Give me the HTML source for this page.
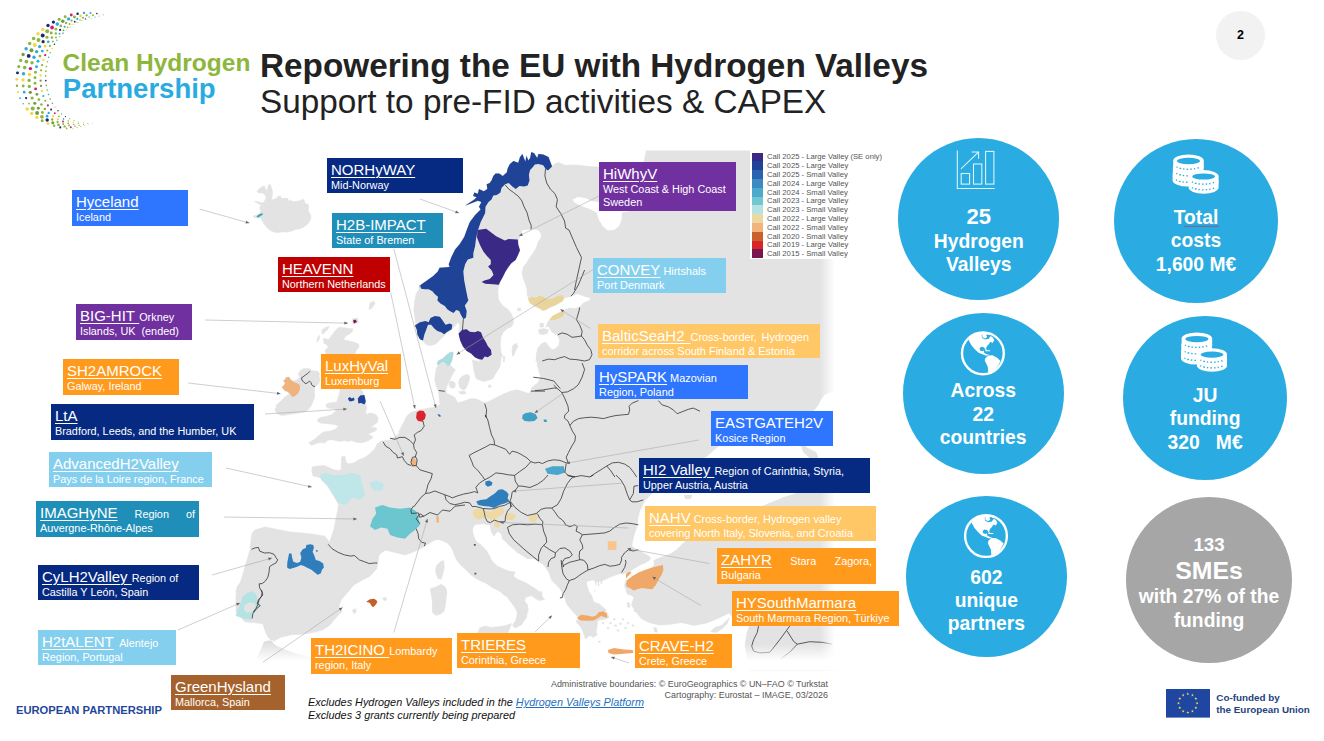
<!DOCTYPE html><html lang="en"><head><meta charset="utf-8"><title>Repowering the EU with Hydrogen Valleys</title><style>
*{box-sizing:border-box;margin:0;padding:0}
html,body{width:1324px;height:741px;overflow:hidden;background:#fff}
body{position:relative;font-family:"Liberation Sans",sans-serif;color:#fff}
.abs{position:absolute}
.lb{position:absolute;color:#fff;font-size:10.85px;line-height:13.2px;padding:3px 0 0 4px;white-space:nowrap;overflow:hidden}
.lb .t{font-size:15px;line-height:18px;text-decoration:underline;text-decoration-thickness:1px;text-underline-offset:2px}
.lb .t.nu{text-decoration:none}
.lb .m{font-size:10.95px}
.lb.big{font-size:10.85px;line-height:13.3px}
.lb.j{padding-right:4px}
.lb .jl{white-space:normal;text-align:justify;text-align-last:justify;height:18px}
.circ{position:absolute;border-radius:50%;background:#2aace2;color:#fff;font-weight:bold;text-align:center;font-size:19.3px;line-height:23.6px}
.circ div{position:absolute;left:0;right:0}
#title{position:absolute;left:260px;top:47.9px;color:#222;font-size:33.3px;line-height:36px;white-space:nowrap}
#title b{font-weight:bold}
.lg{position:absolute;left:767px;font-size:7.68px;line-height:8.8px;color:#555;white-space:nowrap}
.sw{position:absolute;left:752px;width:11.1px;height:8.9px}
</style></head><body>
<svg class="abs" style="left:0;top:0" width="1324" height="741" viewBox="0 0 1324 741"><defs><linearGradient id="fr" x1="0" x2="1" y1="0" y2="0"><stop offset="0" stop-color="#fff" stop-opacity="0"/><stop offset="1" stop-color="#fff"/></linearGradient><linearGradient id="fb" x1="0" x2="0" y1="0" y2="1"><stop offset="0" stop-color="#fff" stop-opacity="0"/><stop offset="1" stop-color="#fff"/></linearGradient><linearGradient id="af" gradientUnits="userSpaceOnUse" x1="0" x2="0" y1="641" y2="661"><stop offset="0" stop-color="#dcdcdc"/><stop offset="1" stop-color="#fff"/></linearGradient><clipPath id="mc"><rect x="228" y="150.5" width="610" height="520"/></clipPath></defs><g clip-path="url(#mc)"><path fill="url(#af)" d="M264.0 641.7L268.4 640.5L272.1 641.1L273.4 643.6L277.1 646.1L285.8 649.8L295.8 653.6L305.8 656.0L315.8 657.9L315.8 664.8L254.7 664.8L257.2 657.3Z"/><path fill="#e3e3e3" stroke="#e3e3e3" stroke-width="0.6" stroke-linejoin="round" d="M256.9 191.6L259.1 188.9L261.8 186.7L264.5 186.2L265.6 188.9L267.2 191.0L268.3 185.1L270.4 184.6L271.5 187.8L272.6 192.7L272.0 197.0L271.0 199.7L275.3 199.1L278.0 196.4L280.1 195.9L281.8 198.6L285.0 198.3L287.7 198.6L288.8 201.3L290.9 200.2L293.1 201.8L296.9 201.3L300.1 200.8L302.8 199.1L304.4 200.8L305.0 203.5L308.2 204.5L308.7 207.8L308.2 211.0L310.4 214.3L310.9 217.5L309.8 220.7L307.7 224.0L304.4 226.7L300.1 228.8L295.8 229.4L291.5 231.0L287.2 232.1L282.8 231.7L278.5 232.6L274.2 232.1L270.4 230.4L267.2 227.8L264.5 224.5L262.3 221.3L260.7 218.0L256.4 218.0L253.7 217.0L253.1 215.9L256.9 215.3L260.2 213.2L260.7 210.5L259.6 207.8L261.2 205.6L259.1 204.0L254.8 201.8L255.3 201.1L260.2 202.4L263.9 202.4L265.0 200.2L266.1 197.5L264.5 194.3L261.8 192.7L259.1 193.2ZM298.2 373.5L300.4 370.6L303.3 368.7L307.0 368.4L310.6 369.1L311.3 370.6L314.3 370.9L317.9 371.3L319.4 373.5L319.0 376.4L320.1 380.0L318.6 383.7L316.4 385.9L314.6 387.3L314.3 390.2L314.6 394.6L314.3 398.2L312.8 401.9L311.3 405.5L309.2 408.4L307.0 410.6L303.3 412.1L299.0 412.8L294.6 413.5L290.2 414.3L285.9 415.0L281.5 415.4L278.6 414.3L275.7 412.1L274.9 409.2L276.7 407.0L275.7 405.5L278.6 403.3L281.5 400.4L283.7 398.2L285.9 396.0L289.1 394.6L288.0 391.7L285.1 391.0L283.3 388.8L281.8 386.9L284.0 385.5L285.1 382.9L283.3 380.4L285.1 379.7L285.9 377.5L289.1 377.1L290.6 379.7L293.1 381.1L296.0 380.4L298.2 378.9L300.4 377.5L299.0 375.7ZM326.1 353.6L325.0 350.4L328.3 347.1L326.1 343.9L324.0 340.7L325.0 338.5L328.3 339.6L330.4 337.4L332.6 334.2L335.8 329.9L339.1 327.2L343.4 327.7L347.7 328.3L353.1 328.8L352.0 332.0L348.8 334.2L345.5 336.3L343.4 339.6L347.7 340.7L354.2 342.3L358.5 343.9L359.0 347.1L356.3 350.4L355.2 353.6L361.1 389.0L362.5 391.3L363.9 395.1L364.9 398.9L365.3 402.7L365.8 405.5L366.8 408.3L365.3 412.1L366.8 414.5L369.6 413.1L373.4 413.5L376.7 415.4L378.1 418.7L377.2 422.5L373.4 425.3L370.5 427.7L374.3 427.2L377.2 429.1L375.3 431.0L370.5 432.9L367.7 434.3L371.5 435.7L372.9 437.6L368.7 440.4L364.9 441.9L361.1 442.8L356.4 442.3L351.7 440.4L347.9 441.4L345.0 440.4L340.3 441.4L335.6 440.4L330.9 439.5L327.1 440.4L324.3 443.3L321.4 442.3L316.7 443.3L311.5 445.2L308.7 442.8L311.1 441.4L314.8 439.0L318.6 435.7L322.4 432.4L326.2 431.5L330.9 431.0L335.6 429.1L338.4 426.3L334.7 424.4L329.9 423.9L325.2 423.4L320.5 423.0L317.7 421.5L318.1 418.7L321.4 417.3L326.2 416.4L331.8 414.5L334.7 412.1L336.5 411.2L334.7 408.8L330.9 408.3L327.6 407.9L325.7 406.0L327.1 403.6L330.9 402.7L336.5 402.2L338.0 397.9L339.4 393.2L340.3 389.0ZM321.8 329.9L326.1 327.2L329.4 326.6L327.2 329.9L324.0 333.1L322.3 334.2ZM317.5 337.4L319.6 335.3L319.1 339.6L316.9 342.3ZM323.4 338.5L325.6 339.0L326.1 343.9L324.0 343.4ZM370.0 303.0L373.5 301.0L375.0 303.5L372.0 308.0L369.0 309.5ZM352.0 319.0L357.5 318.0L358.5 322.5L353.0 324.0ZM555.0 164.0L558.6 162.8L564.5 165.2L565.0 190.0L555.0 215.0L540.0 225.0L523.2 229.7L521.6 230.8L520.0 236.2L518.3 240.5L518.3 244.8L520.0 250.2L517.8 255.6L515.6 260.0L511.3 263.2L508.1 267.5L505.4 271.8L502.7 277.2L500.0 282.1L498.9 284.8L497.8 291.3L498.4 300.0L498.7 299.9L500.3 302.7L504.0 306.8L507.8 309.3L510.9 313.0L513.1 318.0L513.4 323.0L511.5 326.7L507.2 328.6L503.4 331.7L500.9 337.3L500.3 344.8L500.9 352.3L503.4 357.2L501.5 355.0L500.0 366.5L492.5 379.0L483.8 381.5L476.2 378.8L473.8 370.0L472.5 360.0L481.0 362.0L478.5 359.2L474.8 357.2L471.0 353.5L466.7 351.0L462.9 346.6L460.4 341.0L459.2 336.7L458.6 333.6L459.2 329.8L459.8 324.8L457.9 322.3L455.4 325.5L451.7 329.6L447.3 332.6L443.6 336.3L439.9 340.0L436.1 343.8L431.1 345.5L426.2 344.8L423.0 341.0L419.9 339.2L417.4 334.8L416.8 329.8L415.6 324.8L414.9 317.4L413.9 309.9L414.7 301.2L416.2 293.7L419.3 288.7L419.9 285.0L418.7 288.2L419.6 287.9L420.5 285.1L426.9 280.6L433.2 276.0L437.8 271.5L439.6 267.8L449.6 266.9L448.7 264.2L451.4 256.9L455.1 249.6L459.6 244.2L464.2 236.9L466.9 229.6L469.7 222.3L475.1 215.0L480.6 209.6L479.0 206.8L481.4 202.0L477.8 200.8L468.3 204.4L465.3 205.6L474.3 199.6L476.6 197.3L473.1 196.1L474.3 192.5L477.8 193.7L479.0 189.0L483.8 191.3L487.3 189.0L486.7 184.2L489.7 183.0L491.5 180.6L493.3 175.9L495.6 173.5L499.2 173.5L502.8 175.9L506.9 172.3L507.5 168.8L509.9 164.0L513.5 161.0L518.2 162.8L520.0 156.9L522.4 153.9L525.3 161.6L526.5 155.7L528.3 160.4L530.1 158.1L531.3 152.1L534.2 153.3L537.2 158.1L538.4 153.9L543.2 154.5L548.5 156.9L552.1 166.4ZM516.5 344.2L517.9 346.0L515.4 351.0L513.4 356.0L512.4 353.5L514.0 348.5ZM503.7 356.0L504.7 357.2L504.2 362.0L503.2 362.0ZM523.2 229.7L524.0 215.0L524.0 177.5L545.5 168.8L552.1 166.4L555.0 164.0L558.6 162.8L564.5 165.2L576.5 165.0L589.0 166.5L599.5 167.0L621.5 165.0L644.0 162.0L647.0 147.5L845.0 140.0L845.0 675.0L749.5 680.0L747.8 660.0L746.5 655.0L745.2 645.0L746.5 635.0L749.5 625.5L744.0 622.5L734.0 618.8L729.0 613.0L719.0 618.0L706.5 623.0L694.0 625.5L681.5 622.5L669.0 624.5L659.0 625.0L649.0 622.5L641.5 618.8L636.5 612.5L631.5 605.0L634.0 597.5L626.5 591.2L624.5 585.5L626.5 578.0L622.8 574.0L619.0 573.8L609.0 577.5L601.5 581.2L594.0 580.0L587.0 582.5L591.5 587.5L595.5 591.5L589.5 590.0L586.5 593.0L584.0 590.0L581.5 596.2L584.0 602.5L589.0 607.5L595.2 611.2L601.0 611.0L607.0 612.5L609.0 617.5L605.2 619.0L597.8 620.5L596.5 630.0L594.0 637.5L589.5 635.5L585.5 639.0L582.8 630.5L580.2 622.5L577.8 617.0L571.5 610.0L566.5 603.8L564.0 595.0L559.0 587.5L551.5 580.0L549.0 572.5L544.0 565.0L534.0 558.8L527.5 558.8L517.5 552.5L508.8 545.0L502.5 538.8L501.2 533.8L497.5 531.2L493.8 536.2L491.2 531.2L490.0 525.0L482.5 523.8L475.0 524.5L472.5 528.8L472.5 533.8L476.2 542.5L483.8 551.2L490.0 558.8L497.5 566.2L507.5 570.8L515.0 572.0L513.0 577.0L522.5 582.5L532.5 588.8L540.0 593.8L544.5 599.5L538.8 600.5L531.2 595.5L525.5 597.5L523.8 603.8L527.5 610.0L526.5 617.5L521.2 625.0L515.0 628.0L512.5 625.0L516.2 620.0L517.5 612.5L513.8 605.0L510.0 598.8L506.2 593.0L500.0 591.2L492.5 587.5L485.0 582.5L477.5 576.2L470.0 571.2L462.5 565.0L456.2 557.5L452.5 548.8L447.5 542.5L440.0 538.8L432.5 540.0L426.2 542.5L422.5 547.5L415.0 551.2L405.0 555.0L395.0 552.5L385.0 550.0L378.8 555.0L377.5 563.8L376.2 568.8L370.0 576.2L362.5 580.0L353.8 585.0L347.5 592.5L341.2 600.0L338.8 606.2L342.0 611.2L336.2 617.5L330.0 625.0L322.5 630.0L312.5 632.5L302.5 633.8L290.0 635.0L280.0 637.5L273.8 641.2L270.0 637.5L265.0 630.0L263.0 623.8L253.8 622.5L245.0 622.0L240.0 616.2L237.5 615.0L237.0 600.0L238.8 587.5L242.0 577.5L246.2 562.5L250.0 550.0L251.2 537.5L252.5 532.5L255.0 530.0L265.0 527.0L277.5 529.5L290.0 532.0L302.5 533.0L315.0 534.5L325.0 536.2L329.5 542.5L333.8 530.0L336.2 517.5L338.8 505.0L339.5 510.0L338.0 503.0L333.0 495.0L327.5 486.2L321.2 478.8L319.9 477.4L313.1 476.1L311.8 471.2L312.4 466.8L315.6 466.2L324.9 465.5L332.4 469.3L337.4 470.5L341.1 469.9L341.7 456.8L344.8 456.2L346.1 462.4L348.6 463.7L353.6 463.1L358.6 459.9L364.8 457.4L369.8 453.7L374.8 448.7L377.3 443.7L381.0 441.2L390.0 440.0L397.5 435.0L402.5 427.5L398.7 432.0L403.7 422.3L406.8 416.0L411.2 412.3L417.4 410.4L423.6 409.2L429.8 407.9L434.8 407.3L439.8 404.8L439.2 398.6L438.6 391.1L436.1 386.1L434.8 379.9L435.5 373.6L436.1 368.7L438.6 364.9L436.7 363.7L438.6 360.6L442.3 358.7L447.3 354.3L451.0 351.8L453.3 352.5L452.9 356.8L451.7 361.2L449.8 364.9L453.5 368.0L455.4 369.9L453.5 372.4L451.7 376.1L449.8 379.9L447.9 383.6L446.0 388.6L446.7 393.6L449.8 394.8L454.8 397.3L457.3 402.3L461.0 402.3L467.2 399.8L472.2 398.6L477.2 399.2L480.9 401.1L484.7 402.9L489.7 401.1L497.1 397.3L504.6 393.6L510.9 391.1L517.1 389.8L523.3 391.7L528.3 393.6L530.8 391.7L532.0 387.4L538.3 382.4L540.8 377.4L538.9 371.2L537.3 364.9L536.8 356.2L537.6 348.7L540.8 344.4L545.0 342.5L536.0 362.0L536.6 353.5L538.5 347.3L542.2 343.5L545.9 342.3L548.4 346.0L552.2 349.8L555.9 348.5L559.0 344.8L559.6 339.8L557.1 334.8L552.2 332.3L548.4 326.1L545.9 327.3L547.2 323.6L549.7 319.2L554.7 315.5L559.6 312.4L564.6 309.9L569.6 308.0L574.6 308.6L579.6 307.4L583.3 303.0L589.5 300.5L590.8 298.0L585.8 296.8L580.8 294.9L577.1 293.7L570.9 296.2L564.6 298.0L562.1 301.2L555.9 304.9L549.7 307.4L543.4 310.5L539.7 308.6L534.7 306.1L529.7 303.0L528.5 298.7L527.2 293.7L527.5 295.6L527.0 289.1L525.4 283.7L523.2 278.3L522.1 272.9L523.2 267.5L526.4 263.2L529.7 257.8L532.9 253.5L536.2 248.1L538.3 241.6L540.5 238.4L541.6 235.1L539.4 230.8L536.2 229.2L530.8 229.2L523.2 229.7ZM449.2 381.7L452.9 381.1L455.4 383.6L454.8 387.4L451.7 388.6L449.2 386.1ZM459.8 378.6L462.9 376.1L467.2 374.3L469.7 376.1L469.1 381.1L467.2 385.5L465.4 389.2L462.3 389.8L459.8 387.4L458.5 383.0ZM458.5 391.7L464.7 391.1L466.0 393.6L461.0 394.2ZM488.4 385.1L490.7 384.9L490.9 387.1L488.9 387.4ZM512.7 345.6L517.1 343.1L515.2 350.0L512.7 356.2L512.1 351.2ZM539.7 323.6L543.4 323.3L543.7 326.7L540.3 327.3ZM538.5 329.8L543.4 328.6L548.4 329.8L547.2 333.6L542.2 334.8L539.1 333.6ZM517.3 308.6L520.4 308.0L521.0 310.5L518.3 311.1ZM252.2 536.2L252.8 532.5L255.9 530.6L260.9 528.7L265.9 527.5L270.9 529.3L277.1 531.8L285.8 533.7L293.3 536.2L300.8 538.7L308.3 539.9L315.8 541.8L323.2 543.1L328.2 544.3L330.7 541.2L333.2 535.0L335.7 527.5L337.6 520.0L401.0 520.0L401.0 552.4L398.0 551.2L391.8 549.3L385.5 549.9L380.6 552.4L378.1 557.4L377.4 563.0L376.8 568.6L373.1 572.3L366.9 574.8L360.6 577.3L354.4 579.8L349.4 583.6L345.7 588.5L341.9 593.5L338.2 597.3L336.3 602.3L335.7 607.2L337.6 612.0L236.0 612.0L236.0 594.8L236.6 592.3L237.9 587.3L241.0 581.1L243.5 573.6L246.6 566.1L249.7 556.1L251.6 549.3L253.4 544.9L254.7 539.9ZM344.4 590.0L339.4 596.2L336.3 601.2L336.9 606.2L334.5 612.4L330.7 617.4L328.2 622.4L323.2 626.1L315.8 628.6L312.0 632.4L305.8 633.6L298.3 634.2L290.8 633.0L285.8 632.4L279.6 633.0L275.9 635.5L272.8 639.2L271.5 640.5L268.4 637.4L265.9 633.0L264.4 627.4L262.8 623.0L257.8 619.3L252.2 618.4L247.2 616.8L242.2 616.2L237.9 614.9L236.6 609.9L238.5 603.7L241.6 597.5L244.7 592.5L248.5 590.0ZM262.0 540.0L262.0 600.0L256.7 618.4L251.0 619.4L243.5 618.4L235.9 615.6L237.8 609.9L240.6 602.4L238.8 596.7L235.9 591.0L237.8 585.4L243.5 579.7L246.3 572.1L249.1 560.8L252.0 549.5L253.9 540.0ZM382.4 598.1L385.5 597.5L386.8 600.0L384.3 600.6ZM352.5 609.9L355.6 608.7L356.3 611.8L353.8 613.7ZM436.8 565.5L440.5 561.7L443.6 560.5L444.2 567.4L443.0 573.6L441.1 579.2L438.0 578.6L436.1 573.6L435.5 569.2ZM430.5 588.5L435.5 587.3L441.1 584.2L445.5 587.3L446.7 593.5L445.5 599.8L444.9 607.2L443.6 612.0L432.7 612.0L432.4 606.0L433.0 599.8L431.8 593.5ZM446.7 590.0L446.1 596.2L445.5 603.7L444.2 609.9L441.1 613.7L436.1 615.5L432.4 612.4L433.0 606.2L431.8 597.5L430.5 590.0ZM423.7 544.9L424.9 520.0L482.3 520.0L477.3 521.2L473.5 523.1L471.7 525.6L472.3 530.0L473.5 536.2L476.0 541.2L481.0 544.9L486.0 549.9L489.7 556.1L492.2 562.4L497.2 567.4L503.4 571.1L509.7 572.3L514.0 573.0L512.8 576.1L518.4 579.8L524.6 582.3L530.9 586.0L537.1 589.8L541.4 594.2L540.8 596.6L537.1 595.4L532.1 592.3L527.1 591.0L523.4 593.5L521.5 598.5L522.8 603.5L525.9 606.0L528.4 609.1L527.7 612.0L519.6 612.0L517.1 607.2L513.4 601.0L508.4 597.3L503.4 594.8L499.7 591.0L493.5 587.3L488.5 583.6L482.3 581.7L476.0 578.6L471.0 574.8L466.0 569.8L461.1 565.5L457.3 561.1L454.8 556.1L453.0 551.2L451.1 546.2L447.4 543.1L442.4 540.6L437.4 539.3L433.6 540.6L428.7 543.7L422.4 547.4ZM522.8 590.0L520.9 593.7L521.5 597.5L524.6 601.2L527.7 605.0L527.1 609.9L524.6 614.9L521.5 619.9L517.8 624.9L514.0 626.8L514.7 623.6L516.5 618.7L517.8 613.7L515.9 608.7L512.2 603.7L508.4 598.7L503.4 590.0ZM477.9 632.4L479.8 628.0L484.7 626.1L491.0 627.4L498.5 626.8L505.9 625.5L511.5 623.6L509.7 628.6L507.8 633.0L505.9 639.8L502.2 644.8L494.7 642.3L487.2 638.6L481.0 636.1ZM576.1 620.4L581.1 621.1L589.8 621.3L593.6 621.1L595.5 624.8L594.8 629.8L597.3 634.8L595.5 636.0L592.3 632.3L589.8 634.8L587.4 633.5L583.6 632.9L581.1 627.3L577.4 623.6ZM595.5 603.0L598.6 603.6L602.3 606.7L606.7 610.5L604.8 611.7L601.1 609.2L597.3 606.7ZM626.0 591.4L629.1 590.9L632.2 592.7L631.6 594.9L627.9 594.6ZM627.2 602.4L629.5 603.0L629.7 607.4L627.7 607.1ZM634.1 609.8L637.8 609.6L638.5 611.3L634.7 611.7ZM653.7 627.3L656.5 627.9L657.1 632.3L654.7 632.0ZM540.0 591.2L541.7 591.8L542.0 597.1L540.2 597.4ZM609.8 622.3L611.5 622.6L611.3 623.8L609.5 623.6ZM614.8 624.8L616.5 625.1L616.3 626.3L614.5 626.0ZM619.8 622.9L621.5 623.2L621.3 624.4L619.5 624.2ZM617.3 629.8L619.0 630.0L618.8 631.3L617.0 631.0ZM624.7 627.3L626.5 627.5L626.2 628.8L624.5 628.5ZM627.2 622.3L629.0 622.6L628.7 623.8L627.0 623.6ZM622.3 618.6L624.0 618.8L623.7 620.1L622.0 619.8ZM632.2 624.8L634.0 625.1L633.7 626.3L632.0 626.0ZM613.5 618.6L615.3 618.8L615.0 620.1L613.3 619.8ZM607.3 627.3L609.0 627.5L608.8 628.8L607.0 628.5ZM602.3 622.3L604.1 622.6L603.8 623.8L602.1 623.6ZM598.6 641.0L600.3 641.3L600.1 642.5L598.3 642.3ZM586.7 581.8L587.4 586.2L589.2 591.2L592.3 596.1L593.6 601.1L596.1 603.6L599.8 607.4L603.6 611.1L596.1 613.6L587.4 612.3L582.4 603.6L581.1 596.1L583.6 589.9ZM710.6 631.7L714.9 627.4L721.2 625.5L726.1 621.2L729.3 618.0L727.4 623.6L722.4 628.6L716.2 632.4Z"/><path fill="#fff" d="M572.8 199.5L577.8 197.0L585.2 198.0L592.8 201.2L599.5 202.0L629.0 202.5L629.0 211.2L622.0 212.5L621.5 220.0L619.0 226.2L614.0 230.0L607.8 230.5L602.8 226.2L599.0 220.0L596.5 212.5L589.0 208.8L580.2 205.5L574.5 202.5ZM703.0 458.0L706.2 457.3L718.7 446.0L760.0 432.0L814.6 409.9L818.4 404.9L820.9 399.9L824.6 395.0L829.6 392.5L845.0 391.0L845.0 470.0L800.0 492.0L784.0 497.0L740.0 515.0L700.0 532.0L683.8 542.2L680.1 545.9L676.5 549.5L671.6 553.1L665.6 555.6L658.3 558.0L653.4 560.4L651.0 558.0L648.6 555.6L643.7 553.1L638.9 550.1L635.2 548.3L632.2 545.9L632.8 541.0L635.2 532.5L637.6 525.2L638.2 517.9L640.1 510.6L642.5 505.8L644.9 500.9L660.0 485.0L690.0 470.0ZM651.0 558.0L653.4 560.4L654.0 565.0L650.0 568.5L646.1 570.1L638.9 573.8L632.8 576.2L627.9 580.0L622.0 580.0L620.6 575.0L624.3 573.8L629.1 572.0L634.0 568.9L640.1 565.3L646.1 562.8L650.0 560.0ZM586.7 581.8L589.8 580.9L593.0 579.9L593.8 584.9L594.8 592.4L596.7 597.4L595.5 601.7L593.6 601.1L592.3 596.1L589.2 591.2L587.4 586.2Z"/><path fill="#e3e3e3" d="M798.0 436.0L806.0 447.0L816.0 452.0L818.4 457.3L814.0 462.0L803.0 452.0ZM683.8 494.9L692.3 494.9L691.0 499.1L685.0 499.1ZM593.6 578.7L602.3 579.7L601.9 583.7L600.8 584.3L600.4 581.2L599.1 581.4L599.3 586.4L598.1 586.2L597.6 582.2L596.1 581.9L596.8 585.5L595.6 585.2L594.6 581.4Z"/><path fill="none" stroke="#333" stroke-width="0.8" stroke-linejoin="round" d="M758.5 626.1L757.3 632.4L753.6 639.8L751.7 646.1L753.6 651.1L759.8 652.9L769.8 652.3L779.7 639.8L789.7 626.1M787.2 631.1L793.4 641.1L797.2 644.2L809.6 641.7L822.1 642.3L832.1 644.2M797.2 644.2L789.7 652.3L781.0 658.5"/><rect x="820" y="140" width="15" height="540" fill="url(#fr)"/><rect x="835" y="140" width="20" height="540" fill="#fff"/><rect x="400" y="644" width="460" height="17" fill="url(#fb)"/><rect x="400" y="661" width="460" height="20" fill="#fff"/><path fill="#3aa5b8" d="M256.4 216.4L259.1 214.3L262.3 213.2L263.2 214.3L260.7 215.9L258.0 217.5Z"/><path fill="#f0b37e" d="M285.9 377.5L289.1 377.1L290.6 379.7L293.1 381.5L296.0 382.9L299.0 384.0L300.1 386.6L299.7 390.2L298.2 393.1L296.0 395.3L293.9 396.8L291.7 396.4L290.2 393.9L288.0 391.7L285.1 391.0L283.3 388.8L281.8 386.9L284.0 385.5L285.1 382.9L283.3 380.4L285.1 379.7Z"/><path fill="#7a1550" d="M353.0 320.5L355.5 319.5L357.0 322.0L354.0 323.5Z"/><path fill="#1f4397" d="M347.9 398.4L349.8 397.0L351.7 398.4L354.0 397.5L354.5 400.3L351.7 401.2L349.3 401.2Z"/><path fill="#1f4397" d="M357.8 398.4L360.2 395.6L364.4 395.1L365.3 398.9L365.8 401.7L364.4 404.6L361.1 403.1L358.3 403.6Z"/><path fill="#1f4397" d="M551.5 167.0L547.9 170.5L545.5 168.8L543.2 165.2L538.4 164.0L534.8 164.6L532.5 167.6L530.1 169.9L528.9 174.7L529.5 180.6L527.7 185.4L524.1 186.6L519.4 186.0L515.8 189.0L512.3 186.6L508.7 183.0L505.1 184.2L501.6 187.8L500.4 192.5L496.8 194.9L493.3 195.5L491.5 199.6L488.5 202.0L485.5 206.8L485.1 213.2L480.6 222.3L477.9 230.5L476.0 238.7L475.1 246.0L473.3 253.3L473.3 257.8L467.8 259.6L465.1 264.2L463.3 271.5L464.2 280.6L466.0 289.7L467.8 298.8L468.5 299.9L466.7 303.0L464.8 305.5L466.7 311.1L466.0 317.4L463.5 319.2L461.0 314.9L459.2 311.1L456.1 309.9L453.6 313.0L449.8 311.1L447.3 309.3L444.8 306.1L440.5 303.6L437.4 300.5L438.0 296.8L434.9 294.3L432.4 291.2L428.6 289.3L424.9 289.3L421.2 288.7L419.9 285.0L419.6 287.9L420.5 285.1L426.9 280.6L433.2 276.0L437.8 271.5L439.6 267.8L449.6 266.9L448.7 264.2L451.4 256.9L455.1 249.6L459.6 244.2L464.2 236.9L466.9 229.6L469.7 222.3L475.1 215.0L480.6 209.6L479.0 206.8L481.4 202.0L477.8 200.8L468.3 204.4L465.3 205.6L474.3 199.6L476.6 197.3L473.1 196.1L474.3 192.5L477.8 193.7L479.0 189.0L483.8 191.3L487.3 189.0L486.7 184.2L489.7 183.0L491.5 180.6L493.3 175.9L495.6 173.5L499.2 173.5L502.8 175.9L506.9 172.3L507.5 168.8L509.9 164.0L513.5 161.0L518.2 162.8L520.0 156.9L522.4 153.9L525.3 161.6L526.5 155.7L528.3 160.4L530.1 158.1L531.3 152.1L534.2 153.3L537.2 158.1L538.4 153.9L543.2 154.5L548.5 156.9L552.1 166.4Z"/><path fill="#1f4397" d="M414.9 325.5L419.9 322.3L425.5 321.1L428.6 322.3L430.5 318.0L434.9 316.1L439.9 316.7L443.0 321.1L445.5 324.8L449.8 323.6L452.3 324.8L451.7 329.2L447.3 331.7L444.2 334.2L441.1 332.3L437.4 331.1L434.3 328.6L431.1 324.8L428.0 324.8L426.2 329.8L424.3 334.8L423.0 340.4L419.9 339.2L417.4 334.8L416.8 329.8Z"/><path fill="#3b2a85" d="M477.5 230.0L486.2 228.8L496.2 236.2L504.8 240.5L508.6 238.9L517.8 239.4L518.3 244.8L520.0 250.2L517.8 255.6L515.6 260.0L511.3 263.2L508.1 267.5L505.4 271.8L502.7 277.2L500.0 282.1L498.9 284.8L493.0 284.3L485.4 283.7L481.6 282.1L484.3 280.5L489.7 278.9L493.5 275.1L491.9 270.8L488.1 266.4L490.8 264.3L490.8 260.0L486.5 255.6L483.2 251.3L480.0 245.0L477.0 237.5Z"/><path fill="#3b2a85" d="M458.6 333.6L462.3 329.8L466.7 329.2L469.8 331.7L474.8 332.3L477.9 331.1L481.0 332.3L482.9 337.3L486.0 342.3L487.8 346.0L491.0 349.8L491.6 354.7L487.8 357.2L484.7 356.6L482.2 359.7L478.5 359.1L474.8 357.2L471.0 353.5L466.7 351.0L462.9 346.6L460.4 341.0L459.2 336.7Z"/><path fill="#a8dde0" d="M438.6 364.9L436.7 363.7L438.6 360.6L442.3 358.7L447.3 354.3L451.0 351.8L453.3 352.5L452.9 356.8L451.7 361.2L449.8 364.9L447.9 366.2L446.0 363.7L443.6 361.8L441.1 362.4Z"/><path fill="#d8242a" d="M416.8 412.3L419.9 410.4L423.6 411.0L425.9 414.8L424.9 419.1L421.7 421.6L418.0 421.0L416.1 417.9Z"/><path fill="#2b62b0" d="M437.3 414.2L439.6 414.5L441.1 416.3L439.3 416.8Z"/><path fill="#3f9fc4" d="M522.7 414.8L525.8 412.9L530.8 412.3L535.8 414.2L537.6 417.9L534.5 421.0L529.5 421.6L524.6 421.0L522.1 418.5Z"/><path fill="#3f9fc4" d="M543.5 419.5L546.5 419.5L547.0 422.0L544.0 422.0Z"/><path fill="#e9d59b" d="M527.9 298.7L532.2 296.8L536.0 298.0L539.7 295.5L543.4 296.8L547.2 299.3L552.2 298.7L557.1 296.2L562.1 294.9L564.0 297.4L562.8 301.2L558.4 303.6L554.7 305.5L549.7 307.4L545.9 309.9L542.2 310.5L539.7 308.6L534.7 306.1L530.4 303.6Z"/><path fill="#e9d59b" d="M549.7 319.2L552.2 316.1L557.1 313.6L561.5 311.7L564.6 313.0L563.4 316.1L559.6 318.0L555.9 319.8L552.2 320.5Z"/><path fill="#c45f28" d="M366.2 601.8L370.0 599.3L374.3 598.7L377.4 601.2L376.2 604.3L373.1 607.2L371.2 605.6L370.0 603.1Z"/><path fill="#f0a868" d="M607.8 650.0L614.0 648.0L624.0 649.5L632.8 650.0L633.2 653.0L624.0 653.8L614.0 654.5L608.5 653.0Z"/><path fill="#f0a868" d="M577.4 617.6L581.1 614.8L587.4 615.5L592.3 616.7L596.1 615.5L598.6 612.3L603.6 611.3L606.7 613.6L607.3 617.9L604.8 617.3L601.1 616.1L597.3 618.6L593.6 620.4L587.4 620.8L581.1 620.4L578.0 619.6Z"/><path fill="#f0a868" d="M626.0 583.7L627.2 579.9L632.2 576.2L638.5 572.5L644.7 570.0L650.9 568.1L657.1 566.2L662.8 565.0L663.4 570.0L661.5 575.0L658.4 579.9L655.9 584.9L652.2 589.3L647.2 588.7L642.2 588.0L637.2 589.3L633.5 590.5L629.7 588.0L626.6 586.8Z"/><path fill="#f0a868" d="M626.0 573.7L629.7 571.5L631.6 572.5L627.9 576.2L626.0 578.7Z"/><path fill="#f9c58d" d="M607.8 541.2L616.5 541.2L616.5 550.0L607.8 550.0Z"/><path fill="#2f7dbb" d="M287.1 567.4L287.3 562.4L288.3 557.4L289.0 553.6L291.5 553.4L292.1 557.4L293.3 561.7L297.1 563.0L300.2 561.7L301.4 557.4L300.2 553.0L302.7 549.3L305.8 548.0L306.4 544.9L310.2 544.3L313.3 544.9L313.9 548.0L312.6 551.8L314.5 556.1L315.8 559.9L319.5 561.1L323.2 563.6L323.9 567.4L322.0 569.8L320.7 573.6L317.6 574.8L314.5 572.3L311.4 569.8L307.7 568.0L303.9 566.1L300.8 564.9L297.1 566.7L293.3 568.0L289.6 568.9Z"/><path fill="#2f7dbb" d="M315.8 549.9L317.6 550.3L317.8 551.8L316.0 551.4Z"/><path fill="#b5e2e3" d="M235.9 615.6L237.8 609.9L240.6 603.3L242.5 596.7L247.3 592.9L252.0 591.0L255.8 593.9L257.7 598.6L256.7 604.3L259.5 606.2L254.8 610.9L252.0 615.6L251.0 619.4L243.5 618.4Z"/><path fill="#e3e3e3" d="M244.4 605.2L249.1 602.4L254.8 603.3L255.8 607.1L252.0 611.8L246.3 612.8L243.9 609.0Z"/><path fill="#6cc6cf" d="M375.0 507.5L382.5 505.0L390.0 507.5L400.0 508.8L410.0 507.5L416.2 511.2L418.8 518.8L420.0 525.0L415.0 530.0L410.0 533.8L405.0 538.8L397.5 537.5L390.0 535.0L387.5 528.8L381.2 527.5L375.0 530.0L370.0 526.2L372.5 518.8L376.2 513.8Z"/><path fill="#bfe6e8" d="M320.0 475.0L325.0 472.5L332.5 475.0L345.0 475.0L350.0 472.5L360.0 475.0L362.5 485.0L365.0 495.0L360.0 500.0L352.5 497.5L345.0 505.0L337.5 502.5L333.8 495.0L327.5 485.0L321.2 480.0Z"/><path fill="#bfe6e8" d="M370.0 482.5L376.2 480.5L383.8 483.8L382.5 490.0L376.2 491.2L371.2 488.0Z"/><path fill="#f0b37e" d="M410.8 459.5L414.2 458.0L416.5 461.2L415.8 466.2L412.0 466.5Z"/><path fill="#f0b37e" d="M436.2 516.2L438.8 516.2L439.0 522.5L436.5 522.5Z"/><path fill="#4aa6cc" d="M545.0 468.8L552.5 466.2L563.8 466.2L565.0 472.5L557.5 475.0L547.5 473.8Z"/><path fill="#2f7dbb" d="M485.3 481.6L489.3 480.6L492.4 482.6L491.9 485.2L487.8 486.7L485.3 484.7Z"/><path fill="#2f7dbb" d="M476.2 501.4L480.2 499.9L486.3 499.3L490.4 496.3L494.4 493.8L498.5 489.7L502.5 489.2L506.6 491.8L508.6 494.3L507.6 498.3L509.6 501.4L504.5 503.4L499.5 504.9L494.4 507.9L489.3 506.4L483.3 505.9L478.2 504.9Z"/><path fill="#ecd9a3" d="M473.2 510.5L476.2 509.0L483.3 509.0L484.3 512.5L484.8 516.6L483.3 518.6L478.2 519.6L474.2 517.6L472.6 513.5Z"/><path fill="#ecd9a3" d="M484.8 510.5L490.4 512.0L494.4 509.5L499.5 507.4L503.5 508.5L504.5 511.5L502.5 514.5L499.5 516.0L496.4 518.6L493.4 520.6L490.4 519.6L487.3 517.6L485.3 514.5Z"/><path fill="#ecd9a3" d="M494.4 521.1L498.5 522.1L500.5 524.6L498.5 527.7L495.4 526.7L493.9 523.6Z"/><path fill="#ecd9a3" d="M505.5 514.5L510.6 513.0L515.2 514.5L515.7 517.6L512.6 520.1L507.6 520.1L505.0 517.6Z"/><path fill="#ecd9a3" d="M528.8 516.6L532.9 515.0L536.9 513.5L537.9 517.6L535.9 521.6L531.8 522.6L528.8 520.1Z"/><path fill="#555" d="M473.9 544.0L475.7 544.0L475.7 545.8L473.9 545.8Z"/><path fill="#555" d="M474.5 572.7L476.3 572.7L476.3 574.5L474.5 574.5Z"/><path fill="none" stroke="#333" stroke-width="0.8" stroke-linejoin="round" d="M309.9 371.3L307.7 373.5L305.5 374.9L303.3 376.7L301.5 377.8L301.9 380.0L303.7 382.2L305.9 383.7L307.7 382.6L309.5 381.1L311.0 382.6L311.7 384.8L313.2 386.2L315.0 386.4M463.3 319.2L462.9 324.8L462.3 331.1M422.1 421.6L423.0 421.2L424.2 426.2L421.1 430.6L417.4 432.4L414.2 434.9L415.5 439.9L413.6 444.3M389.9 438.1L394.9 439.3L399.9 437.4L404.9 437.4L409.9 440.5L413.6 444.3L414.2 448.6L416.7 452.4L415.5 456.1L415.5 457.1M412.4 457.4L415.5 456.7L417.1 459.9L416.4 465.5L412.4 465.8L410.9 462.4L412.4 457.4M383.1 441.8L385.6 446.2L389.9 448.6L393.1 452.4L396.8 454.9L397.4 458.0L402.4 456.7L404.3 460.5L407.4 464.2L411.1 465.5M416.4 465.8L419.8 469.8L426.1 471.7L432.3 473.6L431.1 478.6L427.9 484.8L426.7 489.8L425.5 493.5L429.8 492.9L434.8 491.0L439.8 492.9L444.8 494.8L449.8 496.6L452.3 497.9L457.2 496.0L463.5 494.1L469.7 492.9L474.7 491.6L477.8 492.9L475.9 487.3L479.7 482.9L484.7 479.8M425.5 493.5L421.1 497.3L417.4 502.2L413.6 507.0M444.8 494.8L446.0 499.7L449.8 503.5L454.7 504.7L459.7 503.7L464.7 502.2L469.7 502.9L472.2 506.6M484.7 479.8L482.8 476.7L478.4 471.1L473.4 466.1L471.6 461.1L469.1 455.5L473.4 453.0L479.7 449.9L485.9 446.8L490.3 444.3L494.6 444.9M485.3 415.0L487.8 420.0L489.6 427.5L491.5 434.9L494.0 439.9L494.6 444.9L499.6 446.8L505.8 449.3L509.6 454.3L512.1 451.1L517.1 452.4L522.0 454.9L527.0 458.0L530.8 461.7L535.0 463.0M484.7 479.8L489.6 477.3L495.9 472.9L502.1 473.6L508.3 474.8L514.6 475.4L519.5 471.7L525.8 467.3L530.8 461.7M514.6 475.4L515.2 481.0L518.3 486.0L515.8 489.8L512.1 492.3L511.4 497.3L509.6 502.2L512.1 507.0M484.7 403.6L486.6 409.8L485.9 417.3L485.3 415.0M438.6 390.5L444.8 391.3M530.8 391.1L545.0 391.1M535.0 390.6L542.5 390.0L553.7 388.1L556.8 388.1M553.7 385.0L556.8 388.1L561.8 392.5L564.9 398.7L568.0 406.2L568.6 411.2L564.9 414.9L564.3 418.0L568.0 421.1L569.9 425.5L572.4 431.1L575.5 436.1L574.9 441.1L571.8 446.1L568.6 452.3L566.2 457.3L568.0 462.3M561.8 392.5L567.4 391.9L573.6 388.7L578.0 385.0M569.9 425.5L573.6 421.1L578.6 418.6L584.8 417.7L591.1 417.2L597.3 417.7L603.5 418.6L609.8 416.8L616.0 415.5L622.2 414.9L628.5 414.3L629.7 409.9L629.1 406.2L632.2 403.1L638.4 400.6M658.4 400.6L662.1 404.9L668.3 406.8L673.3 409.9L677.1 413.7L682.1 411.8L688.3 409.3L693.3 408.1L700.0 411.2M535.0 463.0L538.7 462.3L542.5 463.5L547.5 461.0L553.7 459.8L559.9 460.4L566.2 462.9L568.0 462.3M566.2 463.5L564.9 472.2L568.6 476.0L574.9 477.0M589.8 477.0L594.8 473.5L601.0 469.7L606.7 466.0L612.3 462.9L618.5 462.3L624.7 464.1L629.7 467.3L633.5 472.2L636.6 477.0M606.7 466.0L611.0 471.0L614.8 477.0M518.3 486.0L522.4 486.2L529.9 487.5L537.4 484.3L543.6 480.0L548.0 475.0M510.6 501.8L515.0 507.4L521.2 512.4L527.4 515.5L536.1 513.6L541.1 509.3L546.1 508.0L551.7 508.0L557.3 504.9L561.1 498.7L563.6 491.2L567.3 483.7L571.0 478.7L574.8 476.2M567.3 475.0L574.8 476.9L581.0 475.6L589.7 476.9L593.5 475.0M551.7 508.0L554.8 511.8L558.6 517.4L562.3 519.9L564.8 523.0L565.4 524.8L569.8 526.7L574.8 524.8L577.3 526.7L576.0 531.1L579.8 532.9L582.3 534.8L589.7 534.2L597.2 533.6L604.7 532.9L609.7 531.1L614.7 527.3L619.6 524.2L625.9 523.0L632.1 523.6L638.3 524.8M615.9 475.0L620.9 480.0L624.6 486.2L627.1 493.7L629.6 499.9L632.1 501.8L637.1 501.8L643.3 499.9M629.6 499.9L633.3 493.7L634.0 486.2L638.3 485.6M500.0 522.4L505.0 521.7L505.6 516.1L507.5 511.1L510.6 507.4L510.6 501.8M538.6 561.0L532.4 556.0L526.2 551.0L519.9 545.4L513.7 539.8L509.3 533.6L507.5 527.3L512.5 524.8L519.9 524.2L527.4 524.8L534.9 524.2L542.4 524.8L543.0 521.7L539.9 518.6L537.4 513.6M542.4 524.8L543.6 531.1L546.1 537.3L546.7 542.3L543.6 545.4L541.1 548.5L538.6 554.8L538.6 561.0M543.6 545.4L549.8 549.8L555.5 552.9L554.8 557.3L551.1 558.5L548.6 562.2L548.0 567.0M555.5 552.9L559.8 548.5L564.8 547.9L569.8 551.0L572.3 554.8L569.8 557.3L564.8 558.5L562.3 562.2L563.6 567.0M582.3 534.8L579.8 539.8L582.3 544.8L582.9 548.5L579.8 551.0L579.1 556.0L579.8 559.7L583.0 560.0M579.8 559.7L574.8 561.0L569.8 562.2L564.8 564.7L562.3 567.0M621.6 560.0L621.5 557.3L624.6 552.9L628.4 549.8L633.3 551.0L638.3 549.8M561.2 560.0L561.8 567.5L563.1 573.7L566.2 578.7L569.3 580.6L567.4 584.9L565.5 589.9L563.1 593.6L562.4 597.4L559.9 598.0M569.3 580.6L574.9 578.7L579.9 575.0L584.9 571.8L588.0 570.0L587.4 565.0L584.9 561.2L583.0 560.0M588.0 570.0L593.6 568.1L599.8 565.6L604.8 564.4L609.8 566.2L614.8 565.6L619.8 564.4L621.6 560.0M621.6 572.5L624.7 567.5L626.0 562.5L625.4 560.0M416.2 528.7L418.1 533.7L418.7 538.7L421.8 542.4L425.5 543.1L424.3 546.2M423.8 516.2L430.0 512.5L437.5 515.0L442.5 510.0L450.0 511.2L455.0 506.2L465.0 505.0M420.0 523.8L416.2 518.8L420.0 513.8L423.8 516.2M472.1 506.6L475.2 506.4L483.3 508.5L490.4 509.0L494.4 508.5L499.5 506.4L504.5 505.4L510.1 502.4M483.3 508.5L484.3 512.5L485.3 517.6L487.3 521.6L490.4 522.6L494.4 520.1L498.5 521.6L502.5 522.1M413.4 506.1L410.9 509.8L411.5 513.5L418.4 512.9L419.6 517.3L423.8 516.2M251.6 549.3L254.7 548.0L258.4 547.4L259.7 551.2L264.7 553.0L269.6 552.7L274.0 554.3L275.9 557.4L277.7 559.9L275.9 563.0L272.1 564.9L269.6 566.7L269.0 572.3L267.8 577.3L265.3 581.1L262.2 583.6L259.1 583.8L259.7 587.9L262.2 592.3L261.5 596.0L259.1 599.8L257.8 604.7L255.9 608.5L253.4 612.0M261.5 590.0L262.8 595.0L258.4 600.0L257.2 603.7L260.3 605.6L256.6 608.7L252.8 613.7L252.2 618.4M328.2 544.3L332.0 548.7L338.2 552.4L344.4 554.9L350.7 556.1L354.4 555.5L359.4 559.9L364.4 561.7L369.3 563.6L374.3 563.0L377.4 563.0M584.6 270.0L582.1 276.2L578.3 285.0L573.3 293.7L570.9 296.2M579.6 307.4L579.0 311.1L577.1 317.4L576.5 319.8L579.6 324.8L582.1 331.1L581.4 336.0M557.8 334.8L562.1 332.9L567.1 334.2L572.1 337.3L577.1 336.7L581.4 336.0L584.6 339.8L587.1 344.8L590.8 349.8L592.0 354.7L589.5 359.7M542.2 361.0L548.4 359.1L554.7 359.7L559.6 357.9L564.6 356.6L569.6 359.1L577.1 359.7L584.6 361.0L589.5 359.7M582.1 363.1L584.6 369.5L582.1 377.2L578.2 384.9M533.3 377.2L543.6 378.5L553.8 381.0L560.3 388.7M545.5 168.8L544.9 175.9L546.7 183.0L550.3 189.0L555.0 193.7L557.4 199.6L556.2 206.8L561.0 213.9L564.5 221.0L565.7 228.2L569.0 230.0L576.5 247.5L581.5 257.5L576.5 280.0L574.5 290.0M505.1 184.8L508.7 189.0L513.5 192.5L518.2 196.1L521.8 200.8L524.1 206.8L527.1 212.7L528.9 219.8L531.3 225.8L531.0 229.3"/></g><path d="M199.7 209.1L249.4 223.1" stroke="#a6a6a6" stroke-width="0.55" fill="none"/><path d="M249.4 223.1L245.5 223.6L246.3 220.7Z" fill="#666"/><path d="M420.0 199.0L459.0 213.0" stroke="#a6a6a6" stroke-width="0.55" fill="none"/><path d="M459.0 213.0L455.1 213.2L456.1 210.4Z" fill="#666"/><path d="M393.8 248.8L436.0 408.0" stroke="#a6a6a6" stroke-width="0.55" fill="none"/><path d="M436.0 408.0L433.6 404.9L436.5 404.1Z" fill="#666"/><path d="M390.7 292.5L415.0 408.8" stroke="#a6a6a6" stroke-width="0.55" fill="none"/><path d="M415.0 408.8L412.8 405.6L415.7 405.0Z" fill="#666"/><path d="M205.0 320.0L348.0 323.2" stroke="#a6a6a6" stroke-width="0.55" fill="none"/><path d="M348.0 323.2L344.4 324.6L344.4 321.6Z" fill="#666"/><path d="M188.0 383.0L280.6 393.7" stroke="#a6a6a6" stroke-width="0.55" fill="none"/><path d="M280.6 393.7L276.9 394.8L277.2 391.8Z" fill="#666"/><path d="M265.0 414.0L347.0 409.0" stroke="#a6a6a6" stroke-width="0.55" fill="none"/><path d="M347.0 409.0L343.5 410.7L343.3 407.7Z" fill="#666"/><path d="M226.0 468.0L311.8 487.1" stroke="#a6a6a6" stroke-width="0.55" fill="none"/><path d="M311.8 487.1L308.0 487.8L308.6 484.9Z" fill="#666"/><path d="M224.0 517.0L357.0 519.0" stroke="#a6a6a6" stroke-width="0.55" fill="none"/><path d="M357.0 519.0L353.4 520.4L353.4 517.4Z" fill="#666"/><path d="M212.0 575.0L272.0 558.0" stroke="#a6a6a6" stroke-width="0.55" fill="none"/><path d="M272.0 558.0L268.9 560.4L268.1 557.5Z" fill="#666"/><path d="M178.0 630.0L240.0 603.0" stroke="#a6a6a6" stroke-width="0.55" fill="none"/><path d="M240.0 603.0L237.3 605.8L236.1 603.1Z" fill="#666"/><path d="M262.8 662.3L342.6 607.4" stroke="#a6a6a6" stroke-width="0.55" fill="none"/><path d="M342.6 607.4L340.5 610.7L338.8 608.2Z" fill="#666"/><path d="M380.0 401.0L403.8 456.0" stroke="#a6a6a6" stroke-width="0.55" fill="none"/><path d="M403.8 456.0L401.0 453.3L403.7 452.1Z" fill="#666"/><path d="M393.8 632.5L427.5 518.8" stroke="#a6a6a6" stroke-width="0.55" fill="none"/><path d="M427.5 518.8L427.9 522.7L425.0 521.8Z" fill="#666"/><path d="M535.2 631.8L552.0 615.5" stroke="#a6a6a6" stroke-width="0.55" fill="none"/><path d="M552.0 615.5L550.5 619.1L548.4 616.9Z" fill="#666"/><path d="M629.0 663.0L611.0 657.0" stroke="#a6a6a6" stroke-width="0.55" fill="none"/><path d="M611.0 657.0L614.9 656.7L613.9 659.6Z" fill="#666"/><path d="M599.0 196.0L519.0 236.0" stroke="#a6a6a6" stroke-width="0.55" fill="none"/><path d="M519.0 236.0L521.5 233.0L522.9 235.7Z" fill="#666"/><path d="M593.0 269.5L456.5 354.5" stroke="#a6a6a6" stroke-width="0.55" fill="none"/><path d="M456.5 354.5L458.8 351.3L460.3 353.9Z" fill="#666"/><path d="M590.3 328.5L560.3 309.3" stroke="#a6a6a6" stroke-width="0.55" fill="none"/><path d="M560.3 309.3L564.1 310.0L562.5 312.5Z" fill="#666"/><path d="M564.0 392.6L534.6 413.1" stroke="#a6a6a6" stroke-width="0.55" fill="none"/><path d="M534.6 413.1L536.7 409.8L538.4 412.3Z" fill="#666"/><path d="M698.7 440.0L566.2 463.3" stroke="#a6a6a6" stroke-width="0.55" fill="none"/><path d="M566.2 463.3L569.5 461.2L570.0 464.2Z" fill="#666"/><path d="M623.4 483.1L512.5 491.2" stroke="#a6a6a6" stroke-width="0.55" fill="none"/><path d="M512.5 491.2L516.0 489.4L516.2 492.4Z" fill="#666"/><path d="M628.4 528.0L500.0 522.4" stroke="#a6a6a6" stroke-width="0.55" fill="none"/><path d="M500.0 522.4L503.7 521.1L503.5 524.1Z" fill="#666"/><path d="M709.3 563.5L627.3 548.6" stroke="#a6a6a6" stroke-width="0.55" fill="none"/><path d="M627.3 548.6L631.1 547.8L630.6 550.7Z" fill="#666"/><path d="M700.8 605.5L652.2 576.8" stroke="#a6a6a6" stroke-width="0.55" fill="none"/><path d="M652.2 576.8L656.1 577.3L654.5 579.9Z" fill="#666"/></svg>
<svg class="abs" style="left:0;top:0" width="260" height="140" viewBox="0 0 260 140"><circle cx="103.2" cy="14.8" r="0.53" fill="#29abe2"/><circle cx="96.9" cy="13.6" r="0.82" fill="#1b2a6b"/><circle cx="90.5" cy="13.0" r="1.00" fill="#29abe2"/><circle cx="84.0" cy="13.0" r="1.16" fill="#29abe2"/><circle cx="77.6" cy="13.7" r="1.29" fill="#1b2a6b"/><circle cx="71.3" cy="15.0" r="1.40" fill="#d6186e"/><circle cx="65.2" cy="16.8" r="1.49" fill="#8db63c"/><circle cx="59.2" cy="19.2" r="1.57" fill="#8db63c"/><circle cx="53.4" cy="22.1" r="1.64" fill="#1b2a6b"/><circle cx="48.0" cy="25.5" r="1.69" fill="#1b2a6b"/><circle cx="42.8" cy="29.4" r="1.72" fill="#f5d63d"/><circle cx="38.0" cy="33.7" r="1.74" fill="#f5d63d"/><circle cx="33.6" cy="38.4" r="1.75" fill="#8db63c"/><circle cx="29.7" cy="43.4" r="1.74" fill="#8db63c"/><circle cx="26.1" cy="48.8" r="1.72" fill="#29abe2"/><circle cx="23.1" cy="54.5" r="1.68" fill="#6f9f3c"/><circle cx="20.7" cy="60.4" r="1.62" fill="#8db63c"/><circle cx="18.8" cy="66.6" r="1.55" fill="#8db63c"/><circle cx="17.5" cy="72.9" r="1.47" fill="#1b2a6b"/><circle cx="16.8" cy="79.3" r="1.37" fill="#f5d63d"/><circle cx="17.0" cy="85.7" r="1.25" fill="#8db63c"/><circle cx="18.0" cy="92.0" r="1.11" fill="#f5d63d"/><circle cx="20.1" cy="98.1" r="0.95" fill="#29abe2"/><circle cx="23.2" cy="103.8" r="0.76" fill="#29abe2"/><circle cx="27.1" cy="108.9" r="1.75" fill="#f5d63d"/><circle cx="31.7" cy="113.4" r="1.68" fill="#f5d63d"/><circle cx="36.8" cy="117.3" r="1.58" fill="#f5d63d"/><circle cx="42.2" cy="120.7" r="1.47" fill="#8db63c"/><circle cx="48.0" cy="123.5" r="1.34" fill="#f5d63d"/><circle cx="54.1" cy="125.7" r="1.19" fill="#8db63c"/><circle cx="60.3" cy="127.4" r="1.03" fill="#1b2a6b"/><circle cx="66.6" cy="128.4" r="0.84" fill="#8db63c"/><circle cx="73.0" cy="128.7" r="0.53" fill="#8db63c"/><circle cx="99.1" cy="16.0" r="0.60" fill="#8db63c"/><circle cx="93.0" cy="15.3" r="0.95" fill="#8db63c"/><circle cx="86.7" cy="15.3" r="1.16" fill="#8db63c"/><circle cx="80.6" cy="15.9" r="1.34" fill="#f5d63d"/><circle cx="74.5" cy="17.1" r="1.49" fill="#8db63c"/><circle cx="68.6" cy="18.9" r="1.62" fill="#29abe2"/><circle cx="62.8" cy="21.3" r="1.73" fill="#6f9f3c"/><circle cx="57.3" cy="24.1" r="1.82" fill="#29abe2"/><circle cx="52.1" cy="27.5" r="1.89" fill="#d6186e"/><circle cx="47.2" cy="31.3" r="1.94" fill="#8db63c"/><circle cx="42.7" cy="35.5" r="1.98" fill="#1b2a6b"/><circle cx="38.5" cy="40.1" r="2.00" fill="#8db63c"/><circle cx="34.8" cy="45.1" r="2.00" fill="#f5d63d"/><circle cx="31.5" cy="50.3" r="1.98" fill="#6f9f3c"/><circle cx="28.7" cy="55.9" r="1.94" fill="#1b2a6b"/><circle cx="26.4" cy="61.6" r="1.89" fill="#8db63c"/><circle cx="24.7" cy="67.6" r="1.81" fill="#8db63c"/><circle cx="23.5" cy="73.7" r="1.72" fill="#29abe2"/><circle cx="23.0" cy="79.9" r="1.61" fill="#f5d63d"/><circle cx="23.2" cy="86.1" r="1.48" fill="#8db63c"/><circle cx="24.2" cy="92.2" r="1.33" fill="#29abe2"/><circle cx="26.1" cy="98.1" r="1.15" fill="#1b2a6b"/><circle cx="29.0" cy="103.6" r="0.94" fill="#8db63c"/><circle cx="32.7" cy="108.5" r="2.00" fill="#8db63c"/><circle cx="37.1" cy="113.0" r="1.95" fill="#6f9f3c"/><circle cx="41.9" cy="116.8" r="1.83" fill="#8db63c"/><circle cx="47.2" cy="120.0" r="1.70" fill="#1b2a6b"/><circle cx="52.8" cy="122.7" r="1.55" fill="#6f9f3c"/><circle cx="58.6" cy="124.8" r="1.38" fill="#8db63c"/><circle cx="64.6" cy="126.4" r="1.19" fill="#8db63c"/><circle cx="70.8" cy="127.3" r="0.97" fill="#d6186e"/><circle cx="77.0" cy="127.6" r="0.60" fill="#8db63c"/><circle cx="95.1" cy="17.1" r="0.51" fill="#29abe2"/><circle cx="89.1" cy="17.1" r="0.75" fill="#8db63c"/><circle cx="83.1" cy="17.7" r="0.91" fill="#6f9f3c"/><circle cx="77.3" cy="18.9" r="1.03" fill="#29abe2"/><circle cx="71.6" cy="20.6" r="1.14" fill="#8db63c"/><circle cx="66.1" cy="23.0" r="1.24" fill="#8db63c"/><circle cx="60.8" cy="25.9" r="1.33" fill="#8db63c"/><circle cx="55.9" cy="29.2" r="1.41" fill="#8db63c"/><circle cx="51.2" cy="33.0" r="1.48" fill="#8db63c"/><circle cx="47.0" cy="37.2" r="1.54" fill="#8db63c"/><circle cx="43.1" cy="41.7" r="1.59" fill="#1b2a6b"/><circle cx="39.6" cy="46.6" r="1.63" fill="#29abe2"/><circle cx="36.6" cy="51.7" r="1.66" fill="#29abe2"/><circle cx="34.0" cy="57.2" r="1.68" fill="#29abe2"/><circle cx="32.0" cy="62.8" r="1.70" fill="#8db63c"/><circle cx="30.4" cy="68.6" r="1.70" fill="#d6186e"/><circle cx="29.5" cy="74.5" r="1.70" fill="#f5d63d"/><circle cx="29.1" cy="80.4" r="1.68" fill="#8db63c"/><circle cx="29.3" cy="86.4" r="1.66" fill="#8db63c"/><circle cx="30.3" cy="92.3" r="1.63" fill="#6f9f3c"/><circle cx="32.1" cy="98.0" r="1.59" fill="#8db63c"/><circle cx="34.8" cy="103.3" r="1.54" fill="#6f9f3c"/><circle cx="38.3" cy="108.2" r="1.48" fill="#6f9f3c"/><circle cx="42.4" cy="112.5" r="1.41" fill="#8db63c"/><circle cx="47.1" cy="116.2" r="1.33" fill="#29abe2"/><circle cx="52.2" cy="119.4" r="1.24" fill="#8db63c"/><circle cx="57.6" cy="122.0" r="1.14" fill="#8db63c"/><circle cx="63.2" cy="124.0" r="1.03" fill="#8db63c"/><circle cx="69.0" cy="125.4" r="0.91" fill="#8db63c"/><circle cx="74.9" cy="126.3" r="0.75" fill="#8db63c"/><circle cx="80.9" cy="126.5" r="0.51" fill="#8db63c"/><circle cx="91.0" cy="18.3" r="0.43" fill="#29abe2"/><circle cx="85.4" cy="18.9" r="0.64" fill="#1b2a6b"/><circle cx="80.0" cy="20.0" r="0.77" fill="#8db63c"/><circle cx="74.7" cy="21.7" r="0.88" fill="#1b2a6b"/><circle cx="69.6" cy="24.0" r="0.98" fill="#8db63c"/><circle cx="64.7" cy="26.7" r="1.06" fill="#29abe2"/><circle cx="60.1" cy="29.9" r="1.13" fill="#1b2a6b"/><circle cx="55.8" cy="33.4" r="1.20" fill="#8db63c"/><circle cx="51.9" cy="37.4" r="1.26" fill="#8db63c"/><circle cx="48.3" cy="41.7" r="1.31" fill="#29abe2"/><circle cx="45.1" cy="46.2" r="1.35" fill="#f5d63d"/><circle cx="42.3" cy="51.1" r="1.39" fill="#29abe2"/><circle cx="39.9" cy="56.1" r="1.41" fill="#8db63c"/><circle cx="38.0" cy="61.3" r="1.43" fill="#29abe2"/><circle cx="36.5" cy="66.7" r="1.45" fill="#29abe2"/><circle cx="35.5" cy="72.2" r="1.45" fill="#8db63c"/><circle cx="35.0" cy="77.8" r="1.45" fill="#8db63c"/><circle cx="35.0" cy="83.3" r="1.43" fill="#8db63c"/><circle cx="35.6" cy="88.9" r="1.41" fill="#d6186e"/><circle cx="36.9" cy="94.3" r="1.39" fill="#6f9f3c"/><circle cx="38.8" cy="99.6" r="1.35" fill="#8db63c"/><circle cx="41.4" cy="104.5" r="1.31" fill="#8db63c"/><circle cx="44.8" cy="108.9" r="1.26" fill="#8db63c"/><circle cx="48.7" cy="112.9" r="1.20" fill="#29abe2"/><circle cx="53.1" cy="116.3" r="1.13" fill="#f5d63d"/><circle cx="57.9" cy="119.2" r="1.06" fill="#f5d63d"/><circle cx="63.0" cy="121.5" r="0.98" fill="#d6186e"/><circle cx="68.2" cy="123.3" r="0.88" fill="#8db63c"/><circle cx="73.7" cy="124.5" r="0.77" fill="#8db63c"/><circle cx="79.2" cy="125.3" r="0.64" fill="#8db63c"/><circle cx="84.8" cy="125.4" r="0.44" fill="#8db63c"/><circle cx="86.9" cy="19.4" r="0.34" fill="#29abe2"/><circle cx="81.9" cy="20.6" r="0.51" fill="#8db63c"/><circle cx="76.9" cy="22.3" r="0.61" fill="#8db63c"/><circle cx="72.2" cy="24.5" r="0.70" fill="#f5d63d"/><circle cx="67.7" cy="27.2" r="0.77" fill="#6f9f3c"/><circle cx="63.5" cy="30.3" r="0.84" fill="#6f9f3c"/><circle cx="59.6" cy="33.7" r="0.90" fill="#29abe2"/><circle cx="56.0" cy="37.5" r="0.95" fill="#8db63c"/><circle cx="52.8" cy="41.6" r="1.00" fill="#8db63c"/><circle cx="49.9" cy="45.9" r="1.04" fill="#8db63c"/><circle cx="47.3" cy="50.5" r="1.07" fill="#8db63c"/><circle cx="45.2" cy="55.2" r="1.10" fill="#d6186e"/><circle cx="43.4" cy="60.1" r="1.12" fill="#f5d63d"/><circle cx="42.1" cy="65.2" r="1.14" fill="#8db63c"/><circle cx="41.1" cy="70.3" r="1.15" fill="#8db63c"/><circle cx="40.6" cy="75.5" r="1.15" fill="#f5d63d"/><circle cx="40.6" cy="80.7" r="1.15" fill="#6f9f3c"/><circle cx="41.0" cy="85.9" r="1.14" fill="#6f9f3c"/><circle cx="41.9" cy="91.0" r="1.12" fill="#f5d63d"/><circle cx="43.3" cy="96.0" r="1.10" fill="#29abe2"/><circle cx="45.3" cy="100.8" r="1.07" fill="#8db63c"/><circle cx="47.9" cy="105.4" r="1.04" fill="#d6186e"/><circle cx="51.1" cy="109.5" r="1.00" fill="#1b2a6b"/><circle cx="54.8" cy="113.2" r="0.95" fill="#d6186e"/><circle cx="58.9" cy="116.3" r="0.90" fill="#8db63c"/><circle cx="63.5" cy="118.9" r="0.84" fill="#29abe2"/><circle cx="68.2" cy="121.0" r="0.77" fill="#8db63c"/><circle cx="73.2" cy="122.5" r="0.70" fill="#f5d63d"/><circle cx="78.3" cy="123.6" r="0.61" fill="#8db63c"/><circle cx="83.5" cy="124.2" r="0.51" fill="#6f9f3c"/><circle cx="88.7" cy="124.3" r="0.35" fill="#8db63c"/><circle cx="82.9" cy="20.6" r="0.26" fill="#f5d63d"/><circle cx="78.5" cy="22.3" r="0.37" fill="#8db63c"/><circle cx="74.2" cy="24.4" r="0.45" fill="#8db63c"/><circle cx="70.2" cy="27.0" r="0.51" fill="#8db63c"/><circle cx="66.5" cy="29.9" r="0.57" fill="#f5d63d"/><circle cx="63.0" cy="33.1" r="0.61" fill="#1b2a6b"/><circle cx="59.8" cy="36.6" r="0.66" fill="#8db63c"/><circle cx="56.9" cy="40.3" r="0.70" fill="#29abe2"/><circle cx="54.4" cy="44.3" r="0.73" fill="#1b2a6b"/><circle cx="52.1" cy="48.5" r="0.76" fill="#f5d63d"/><circle cx="50.2" cy="52.8" r="0.79" fill="#8db63c"/><circle cx="48.6" cy="57.3" r="0.81" fill="#29abe2"/><circle cx="47.4" cy="61.8" r="0.82" fill="#8db63c"/><circle cx="46.4" cy="66.5" r="0.84" fill="#8db63c"/><circle cx="45.9" cy="71.2" r="0.85" fill="#8db63c"/><circle cx="45.6" cy="75.9" r="0.85" fill="#8db63c"/><circle cx="45.8" cy="80.6" r="0.85" fill="#1b2a6b"/><circle cx="46.3" cy="85.3" r="0.85" fill="#8db63c"/><circle cx="47.2" cy="90.0" r="0.84" fill="#8db63c"/><circle cx="48.5" cy="94.5" r="0.82" fill="#29abe2"/><circle cx="50.2" cy="98.9" r="0.81" fill="#8db63c"/><circle cx="52.4" cy="103.2" r="0.79" fill="#29abe2"/><circle cx="55.0" cy="107.1" r="0.76" fill="#f5d63d"/><circle cx="58.0" cy="110.7" r="0.73" fill="#1b2a6b"/><circle cx="61.5" cy="113.9" r="0.70" fill="#6f9f3c"/><circle cx="65.4" cy="116.6" r="0.66" fill="#1b2a6b"/><circle cx="69.6" cy="118.8" r="0.61" fill="#8db63c"/><circle cx="74.0" cy="120.6" r="0.57" fill="#8db63c"/><circle cx="78.5" cy="121.9" r="0.51" fill="#8db63c"/><circle cx="83.2" cy="122.7" r="0.45" fill="#8db63c"/><circle cx="87.9" cy="123.2" r="0.37" fill="#1b2a6b"/><circle cx="92.6" cy="123.2" r="0.26" fill="#1b2a6b"/></svg><div class="abs" style="left:62.5px;top:47.9px;color:#8db63c;font-weight:bold;font-size:24.5px;line-height:30px;white-space:nowrap">Clean Hydrogen</div><div class="abs" style="left:62.8px;top:72.3px;color:#29abe2;font-weight:bold;font-size:27.5px;line-height:34px;white-space:nowrap">Partnership</div>
<div id="title"><b>Repowering the EU with Hydrogen Valleys</b><br>Support to pre-FID activities &amp; CAPEX</div>
<div class="abs" style="left:1216px;top:11px;width:49px;height:49px;border-radius:50%;background:#f2f2f2;color:#000;font-weight:bold;font-size:12.5px;line-height:49px;text-align:center">2</div>
<div class="abs" style="left:749.5px;top:150px;width:141.5px;height:108.6px;background:#fff"></div>
<div class="sw" style="top:152.6px;background:#3b2a85"></div><div class="lg" style="top:153.4px">Call 2025 - Large Valley (SE only)</div>
<div class="sw" style="top:161.4px;background:#1f4397"></div><div class="lg" style="top:162.2px">Call 2025 - Large Valley</div>
<div class="sw" style="top:170.2px;background:#2b62b0"></div><div class="lg" style="top:171.0px">Call 2025 - Small Valley</div>
<div class="sw" style="top:179.0px;background:#3b8bc2"></div><div class="lg" style="top:179.8px">Call 2024 - Large Valley</div>
<div class="sw" style="top:187.8px;background:#4eaacb"></div><div class="lg" style="top:188.6px">Call 2024 - Small Valley</div>
<div class="sw" style="top:196.6px;background:#6fc8d2"></div><div class="lg" style="top:197.4px">Call 2023 - Large Valley</div>
<div class="sw" style="top:205.4px;background:#b5e2e3"></div><div class="lg" style="top:206.2px">Call 2023 - Small Valley</div>
<div class="sw" style="top:214.2px;background:#ecd8a0"></div><div class="lg" style="top:215.0px">Call 2022 - Large Valley</div>
<div class="sw" style="top:223.0px;background:#f0b47c"></div><div class="lg" style="top:223.8px">Call 2022 - Small Valley</div>
<div class="sw" style="top:231.8px;background:#c8622a"></div><div class="lg" style="top:232.6px">Call 2020 - Small Valley</div>
<div class="sw" style="top:240.6px;background:#d8242a"></div><div class="lg" style="top:241.4px">Call 2019 - Large Valley</div>
<div class="sw" style="top:249.4px;background:#7a1550"></div><div class="lg" style="top:250.2px">Call 2015 - Small Valley</div>
<div class="lb " style="left:72px;top:190px;width:116px;height:36px;background:#2e75ff"><span class="t">Hyceland</span><br>Iceland</div>
<div class="lb " style="left:327px;top:158px;width:136px;height:35px;background:#062a82"><span class="t">NORHyWAY</span><br>Mid-Norway</div>
<div class="lb " style="left:332px;top:213px;width:111px;height:35px;background:#1f8fba"><span class="t">H2B-IMPACT</span><br>State of Bremen</div>
<div class="lb " style="left:278px;top:257px;width:112px;height:35px;background:#c00000"><span class="t">HEAVENN</span><br>Northern Netherlands</div>
<div class="lb " style="left:76px;top:304px;width:116px;height:36px;background:#7030a0"><span class="t">BIG-HIT&nbsp;</span>Orkney<br>Islands, UK&nbsp; (ended)</div>
<div class="lb " style="left:63px;top:359px;width:116px;height:36px;background:#ff9a1c"><span class="t">SH2AMROCK</span><br>Galway, Ireland</div>
<div class="lb " style="left:51px;top:404px;width:203px;height:36px;background:#062a82"><span class="t">LtA</span><br>Bradford, Leeds, and the Humber, UK</div>
<div class="lb " style="left:49px;top:452px;width:163px;height:35px;background:#85cfee"><span class="t">AdvancedH2Valley</span><br>Pays de la Loire region, France</div>
<div class="lb j" style="left:36px;top:501px;width:163px;height:36px;background:#1f8fba"><div class="jl"><span class="t">IMAGHyNE</span> Region of</div>Auvergne-Rhône-Alpes</div>
<div class="lb " style="left:38px;top:565px;width:161px;height:35px;background:#062a82"><span class="t">CyLH2Valley&nbsp;</span>Region of<br>Castilla Y León, Spain</div>
<div class="lb " style="left:38px;top:630px;width:138px;height:35px;background:#85cfee"><span class="t">H2tALENT</span>&nbsp; Alentejo<br>Region, Portugal</div>
<div class="lb " style="left:171px;top:675px;width:114px;height:35px;background:#a5622d"><span class="t">GreenHysland</span><br>Mallorca, Spain</div>
<div class="lb " style="left:321px;top:354px;width:80px;height:35px;background:#ff9a1c"><span class="t">LuxHyVal</span><br>Luxemburg</div>
<div class="lb " style="left:311px;top:638px;width:141px;height:36px;background:#ff9a1c"><span class="t">TH2ICINO&nbsp;</span>Lombardy<br>region, Italy</div>
<div class="lb " style="left:457px;top:633px;width:123px;height:35px;background:#ff9a1c"><span class="t">TRIERES</span><br>Corinthia, Greece</div>
<div class="lb " style="left:635px;top:634px;width:97px;height:34px;background:#ff9a1c"><span class="t">CRAVE-H2</span><br>Crete, Greece</div>
<div class="lb big" style="left:599px;top:162px;width:137px;height:49px;background:#7030a0"><span class="t">HiWhyV</span><br>West Coast &amp; High Coast<br>Sweden</div>
<div class="lb " style="left:593px;top:258px;width:133px;height:35px;background:#85cfee"><span class="t">CONVEY</span> <span class="m">Hirtshals<br>Port Denmark</span></div>
<div class="lb j" style="left:598px;top:324px;width:222px;height:34px;background:#ffc766"><div class="jl" style="margin-right:7px"><span class="t">BalticSeaH2&nbsp;</span><span class="m">Cross-border, Hydrogen</span></div><span class="m">corridor across South Finland &amp; Estonia</span></div>
<div class="lb " style="left:595px;top:365px;width:153px;height:34px;background:#2e75ff"><span class="t">HySPARK</span> <span class="m">Mazovian<br>Region, Poland</span></div>
<div class="lb " style="left:711px;top:411px;width:122px;height:35px;background:#2e75ff"><span class="t nu">EASTGATEH2V</span><br><span class="m">Kosice Region</span></div>
<div class="lb " style="left:639px;top:458px;width:231px;height:35px;background:#062a82"><span class="t">HI2 Valley&nbsp;</span>Region of Carinthia, Styria,<br>Upper Austria, Austria</div>
<div class="lb " style="left:645px;top:506px;width:231px;height:35px;background:#ffc766"><span class="t">NAHV</span> <span class="m">Cross-border, Hydrogen valley<br>covering North Italy, Slovenia, and Croatia</span></div>
<div class="lb j" style="left:717px;top:548px;width:159px;height:36px;background:#ff9a1c"><div class="jl"><span class="t">ZAHYR</span> Stara Zagora,</div>Bulgaria</div>
<div class="lb " style="left:732px;top:591px;width:167px;height:35px;background:#ff9a1c"><span class="t">HYSouthMarmara</span><br>South Marmara Region, Türkiye</div>
<div class="circ" style="left:898.1px;top:138.4px;width:161.4px;height:161.4px;"><div style="top:66.8px;font-size:22.0px">25</div><div style="top:91.7px;font-size:19.3px">Hydrogen</div><div style="top:114.9px;font-size:19.3px">Valleys</div></div>
<div class="circ" style="left:1114.0px;top:138.7px;width:164.0px;height:164.0px;"><div style="top:67.4px;font-size:19.3px">Total</div><div style="top:90.3px;font-size:19.3px">costs</div><div style="top:114.3px;font-size:19.3px">1,600 M€</div></div>
<div class="circ" style="left:902.7px;top:312.5px;width:161.0px;height:161.0px;"><div style="top:66.9px;font-size:19.3px">Across</div><div style="top:90.1px;font-size:19.3px">22</div><div style="top:113.6px;font-size:19.3px">countries</div></div>
<div class="circ" style="left:1123.0px;top:316.1px;width:164.2px;height:164.2px;"><div style="top:67.6px;font-size:19.3px">JU</div><div style="top:90.8px;font-size:19.3px">funding</div><div style="top:115.1px;font-size:19.3px">320&nbsp;&nbsp; M€</div></div>
<div class="circ" style="left:905.7px;top:495.5px;width:161.2px;height:161.2px;"><div style="top:70.7px;font-size:19.3px">602</div><div style="top:93.6px;font-size:19.3px">unique</div><div style="top:116.7px;font-size:19.3px">partners</div></div>
<div class="circ" style="left:1126.3px;top:497.2px;width:165.4px;height:165.4px;background:#a6a6a6;"><div style="top:35.8px;font-size:18.7px">133</div><div style="top:61.8px;font-size:24.8px">SMEs</div><div style="top:87.8px;font-size:19.3px">with 27% of the</div><div style="top:111.4px;font-size:19.3px">funding</div></div>
<svg class="abs" style="left:0;top:0" width="1324" height="741" viewBox="0 0 1324 741"><g fill="none" stroke="#e3f6fd" stroke-width="1.05" stroke-linecap="square"><path d="M957.3 151V188.4H994.2"/><rect x="961.2" y="173.5" width="8.4" height="10.6"/><rect x="973.5" y="164" width="8.3" height="20.1"/><rect x="985.6" y="151.4" width="8.3" height="32.7"/><path d="M961.3 168.6L978.4 152.2M972.2 152H978.6V158.2"/></g><path fill="#ffffff" d="M1172.60 173.70A15.30 6.30 0 0 1 1203.20 173.70V180.20A15.30 6.30 0 0 1 1172.60 180.20Z"/><path fill="none" stroke="#2aace2" stroke-width="1.35" stroke-dasharray="1.4 2.1" d="M1175.97 179.94A14.08 5.04 0 0 0 1199.83 179.94"/><path fill="#ffffff" d="M1172.90 167.20A15.30 6.30 0 0 1 1203.50 167.20V173.70A15.30 6.30 0 0 1 1172.90 173.70Z"/><path fill="none" stroke="#2aace2" stroke-width="1.35" stroke-dasharray="1.4 2.1" d="M1176.27 173.44A14.08 5.04 0 0 0 1200.13 173.44"/><path fill="#ffffff" d="M1173.20 160.70A15.30 6.30 0 0 1 1203.80 160.70V167.20A15.30 6.30 0 0 1 1173.20 167.20Z"/><path fill="none" stroke="#2aace2" stroke-width="1.35" stroke-dasharray="1.4 2.1" d="M1176.57 166.94A14.08 5.04 0 0 0 1200.43 166.94"/><ellipse cx="1188.50" cy="161.00" rx="11.63" ry="3.15" fill="#2aace2"/><path fill="#ffffff" d="M1188.60 181.90A15.00 6.10 0 0 1 1218.60 181.90V187.60A15.00 6.10 0 0 1 1188.60 187.60Z"/><path fill="none" stroke="#2aace2" stroke-width="1.35" stroke-dasharray="1.4 2.1" d="M1191.90 187.57A13.80 4.88 0 0 0 1215.30 187.57"/><path fill="#ffffff" d="M1188.60 176.20A15.00 6.10 0 0 1 1218.60 176.20V181.90A15.00 6.10 0 0 1 1188.60 181.90Z"/><path fill="none" stroke="#2aace2" stroke-width="1.35" stroke-dasharray="1.4 2.1" d="M1191.90 181.87A13.80 4.88 0 0 0 1215.30 181.87"/><ellipse cx="1203.60" cy="176.50" rx="11.40" ry="3.05" fill="#2aace2"/><path fill="#ffffff" d="M1181.00 351.80A15.30 6.30 0 0 1 1211.60 351.80V358.30A15.30 6.30 0 0 1 1181.00 358.30Z"/><path fill="none" stroke="#2aace2" stroke-width="1.35" stroke-dasharray="1.4 2.1" d="M1184.37 358.03A14.08 5.04 0 0 0 1208.23 358.03"/><path fill="#ffffff" d="M1181.30 345.30A15.30 6.30 0 0 1 1211.90 345.30V351.80A15.30 6.30 0 0 1 1181.30 351.80Z"/><path fill="none" stroke="#2aace2" stroke-width="1.35" stroke-dasharray="1.4 2.1" d="M1184.67 351.53A14.08 5.04 0 0 0 1208.53 351.53"/><path fill="#ffffff" d="M1181.60 338.80A15.30 6.30 0 0 1 1212.20 338.80V345.30A15.30 6.30 0 0 1 1181.60 345.30Z"/><path fill="none" stroke="#2aace2" stroke-width="1.35" stroke-dasharray="1.4 2.1" d="M1184.97 345.03A14.08 5.04 0 0 0 1208.83 345.03"/><ellipse cx="1196.90" cy="339.10" rx="11.63" ry="3.15" fill="#2aace2"/><path fill="#ffffff" d="M1197.00 360.00A15.00 6.10 0 0 1 1227.00 360.00V365.70A15.00 6.10 0 0 1 1197.00 365.70Z"/><path fill="none" stroke="#2aace2" stroke-width="1.35" stroke-dasharray="1.4 2.1" d="M1200.30 365.67A13.80 4.88 0 0 0 1223.70 365.67"/><path fill="#ffffff" d="M1197.00 354.30A15.00 6.10 0 0 1 1227.00 354.30V360.00A15.00 6.10 0 0 1 1197.00 360.00Z"/><path fill="none" stroke="#2aace2" stroke-width="1.35" stroke-dasharray="1.4 2.1" d="M1200.30 359.97A13.80 4.88 0 0 0 1223.70 359.97"/><ellipse cx="1212.00" cy="354.60" rx="11.40" ry="3.05" fill="#2aace2"/><circle cx="982.9" cy="353.3" r="20.9" fill="none" stroke="#ffffff" stroke-width="2.4"/><path fill="#ffffff" d="M968.3 339.5 L971.8 335.3 L977.0 332.7 L983.1 331.7 L988.4 332.3 L992.2 334.2 L990.6 335.3 L988.0 334.4 L986.1 335.0 L987.2 336.9 L985.4 338.4 L982.7 337.6 L982.0 335.7 L983.1 334.6 L981.6 335.0 L982.0 338.0 L985.4 339.5 L988.8 338.7 L990.6 336.1 L992.9 337.6 L994.3 340.3 L992.5 342.9 L990.3 341.8 L989.0 344.0 L986.9 346.3 L986.1 348.6 L986.9 350.5 L985.4 349.7 L984.2 347.4 L982.7 347.1 L981.2 346.7 L979.5 348.2 L980.1 350.5 L982.5 351.2 L983.8 350.5 L984.2 353.1 L986.9 354.2 L989.1 354.6 L986.1 355.8 L983.1 354.6 L978.6 352.7 L974.8 349.3 L971.4 345.2 L969.9 342.5ZM985.2 358.4 L988.0 355.4 L992.5 355.2 L997.5 358.0 L1000.5 360.9 L998.2 365.2 L995.2 369.4 L991.4 372.0 L988.2 372.2 L987.8 367.1 L986.1 363.3 L984.8 360.7ZM985.0 350.3 L989.9 350.3 L990.3 351.2 L985.4 351.2Z"/><circle cx="986.0" cy="536.0" r="20.9" fill="none" stroke="#ffffff" stroke-width="2.4"/><path fill="#ffffff" d="M971.4 522.2 L974.9 518.0 L980.1 515.4 L986.2 514.4 L991.5 515.0 L995.3 516.9 L993.7 518.0 L991.1 517.1 L989.2 517.7 L990.3 519.6 L988.5 521.1 L985.8 520.3 L985.1 518.4 L986.2 517.3 L984.7 517.7 L985.1 520.7 L988.5 522.2 L991.9 521.4 L993.7 518.8 L996.0 520.3 L997.4 523.0 L995.6 525.6 L993.4 524.5 L992.1 526.7 L990.0 529.0 L989.2 531.3 L990.0 533.2 L988.5 532.4 L987.3 530.1 L985.8 529.8 L984.3 529.4 L982.6 530.9 L983.2 533.2 L985.6 533.9 L986.9 533.2 L987.3 535.8 L990.0 536.9 L992.2 537.3 L989.2 538.5 L986.2 537.3 L981.7 535.4 L977.9 532.0 L974.5 527.9 L973.0 525.2ZM988.3 541.1 L991.1 538.1 L995.6 537.9 L1000.6 540.7 L1003.6 543.6 L1001.3 547.9 L998.3 552.1 L994.5 554.7 L991.3 554.9 L990.9 549.8 L989.2 546.0 L987.9 543.4ZM988.1 533.0 L993.0 533.0 L993.4 533.9 L988.5 533.9Z"/><path d="M1184.0 225.8L1185.1 226.9L1186.2 225.8L1187.3 226.9L1188.4 225.8L1189.5 226.9L1190.6 225.8L1191.7 226.9L1192.8 225.8L1193.9 226.9L1195.0 225.8L1196.1 226.9L1197.2 225.8L1198.3 226.9L1199.4 225.8L1200.5 226.9L1201.6 225.8L1202.7 226.9L1203.8 225.8L1204.9 226.9L1206.0 225.8L1207.1 226.9L1208.2 225.8L1209.3 226.9L1210.4 225.8L1211.5 226.9L1212.6 225.8L1213.7 226.9L1214.8 225.8L1215.9 226.9L1217.0 225.8L1218.1 226.9L1219.2 225.8" fill="none" stroke="#b0305a" stroke-width="0.7"/></svg>
<div class="abs" style="left:16px;top:703px;color:#1f479a;font-weight:bold;font-size:11.2px;line-height:14px;white-space:nowrap">EUROPEAN PARTNERSHIP</div>
<div class="abs" style="left:308px;top:696px;color:#111;font-style:italic;font-size:10.87px;line-height:12.8px;white-space:nowrap">Excludes Hydrogen Valleys included in the <span style="color:#1f6fc0;text-decoration:underline">Hydrogen Valleys Platform</span><br>Excludes 3 grants currently being prepared</div>
<div class="abs" style="right:496px;top:679px;color:#555;font-size:8.95px;line-height:10.6px;text-align:right;white-space:nowrap">Administrative boundaries: © EuroGeographics © UN–FAO © Turkstat<br>Cartography: Eurostat – IMAGE, 03/2026</div>
<svg class="abs" style="left:1166.4px;top:689.2px" width="44" height="28.6" viewBox="0 0 44 28.6"><rect width="44" height="28.6" fill="#1f47a1"/><polygon fill="#f6e04b" points="21.80,3.35 22.16,4.40 23.27,4.42 22.39,5.09 22.71,6.15 21.80,5.52 20.89,6.15 21.21,5.09 20.33,4.42 21.44,4.40"/><polygon fill="#f6e04b" points="26.45,4.60 26.81,5.64 27.92,5.67 27.04,6.34 27.36,7.40 26.45,6.77 25.54,7.40 25.86,6.34 24.98,5.67 26.09,5.64"/><polygon fill="#f6e04b" points="29.85,8.00 30.22,9.05 31.33,9.07 30.44,9.74 30.77,10.80 29.85,10.17 28.94,10.80 29.26,9.74 28.38,9.07 29.49,9.05"/><polygon fill="#f6e04b" points="31.10,12.65 31.46,13.70 32.57,13.72 31.69,14.39 32.01,15.45 31.10,14.82 30.19,15.45 30.51,14.39 29.63,13.72 30.74,13.70"/><polygon fill="#f6e04b" points="29.85,17.30 30.22,18.35 31.33,18.37 30.44,19.04 30.77,20.10 29.85,19.47 28.94,20.10 29.26,19.04 28.38,18.37 29.49,18.35"/><polygon fill="#f6e04b" points="26.45,20.70 26.81,21.75 27.92,21.78 27.04,22.45 27.36,23.51 26.45,22.87 25.54,23.51 25.86,22.45 24.98,21.78 26.09,21.75"/><polygon fill="#f6e04b" points="21.80,21.95 22.16,23.00 23.27,23.02 22.39,23.69 22.71,24.75 21.80,24.12 20.89,24.75 21.21,23.69 20.33,23.02 21.44,23.00"/><polygon fill="#f6e04b" points="17.15,20.70 17.51,21.75 18.62,21.78 17.74,22.45 18.06,23.51 17.15,22.87 16.24,23.51 16.56,22.45 15.68,21.78 16.79,21.75"/><polygon fill="#f6e04b" points="13.75,17.30 14.11,18.35 15.22,18.37 14.34,19.04 14.66,20.10 13.75,19.47 12.83,20.10 13.16,19.04 12.27,18.37 13.38,18.35"/><polygon fill="#f6e04b" points="12.50,12.65 12.86,13.70 13.97,13.72 13.09,14.39 13.41,15.45 12.50,14.82 11.59,15.45 11.91,14.39 11.03,13.72 12.14,13.70"/><polygon fill="#f6e04b" points="13.75,8.00 14.11,9.05 15.22,9.07 14.34,9.74 14.66,10.80 13.75,10.17 12.83,10.80 13.16,9.74 12.27,9.07 13.38,9.05"/><polygon fill="#f6e04b" points="17.15,4.60 17.51,5.64 18.62,5.67 17.74,6.34 18.06,7.40 17.15,6.77 16.24,7.40 16.56,6.34 15.68,5.67 16.79,5.64"/></svg>
<div class="abs" style="left:1216.3px;top:692px;color:#24427f;font-weight:bold;font-size:9.85px;line-height:11.7px;white-space:nowrap">Co-funded by<br>the European Union</div>
</body></html>
